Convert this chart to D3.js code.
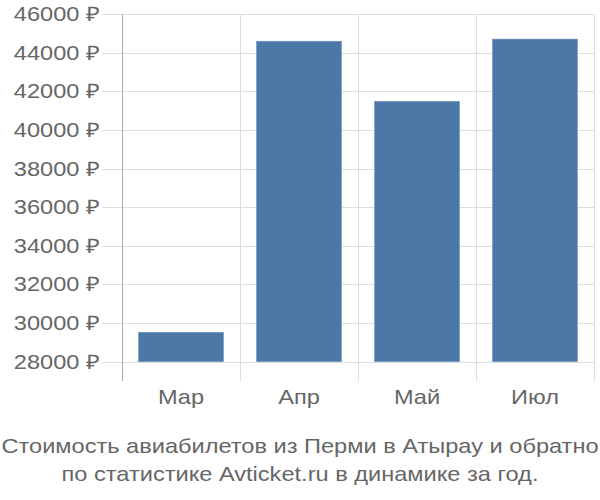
<!DOCTYPE html>
<html><head><meta charset="utf-8">
<script src="https://cdn.jsdelivr.net/npm/d3@7"></script>
<style>body{margin:0;background:#fff}svg{display:block}text{font-family:"Liberation Sans",Arial,sans-serif;fill:#666}</style>
</head><body>
<svg id="c" width="600" height="500"></svg>
<script>
const categories = ["Мар", "Апр", "Май", "Июл"];
const values = [29520, 44590, 41480, 44700];
const yTicks = [28000, 30000, 32000, 34000, 36000, 38000, 40000, 42000, 44000, 46000];
const titleLines = ["Стоимость авиабилетов из Перми в Атырау и обратно", "по статистике Avticket.ru в динамике за год."];

const svg = d3.select("#c");
const x = d3.scaleBand().domain(categories).range([122, 594]).padding(0);
const y = d3.scaleLinear().domain([27000, 46000]).range([381, 14]);
const base = 28000;
const sx = 1.18;

// horizontal grid
svg.append("g").selectAll("line").data(yTicks).join("line")
  .attr("x1", 102).attr("x2", 594)
  .attr("y1", d => Math.round(y(d)) + 0.5).attr("y2", d => Math.round(y(d)) + 0.5)
  .attr("stroke", "#ddd").attr("stroke-width", 1);
// vertical grid
svg.append("g").selectAll("line").data(categories.slice(1).concat(["_end"])).join("line")
  .attr("x1", (d, i) => Math.round(122 + x.bandwidth() * (i + 1)) + 0.5)
  .attr("x2", (d, i) => Math.round(122 + x.bandwidth() * (i + 1)) + 0.5)
  .attr("y1", 14).attr("y2", 381)
  .attr("stroke", "#ddd").attr("stroke-width", 1);

// bars
const inset = x.bandwidth() * 0.14;
svg.append("g").selectAll("rect").data(categories).join("rect")
  .attr("x", d => x(d) + inset)
  .attr("width", x.bandwidth() - 2 * inset)
  .attr("y", (d, i) => y(values[i]))
  .attr("height", (d, i) => y(base) - y(values[i]))
  .attr("fill", "#4c78a8")
  .attr("stroke", "#6f93bd").attr("stroke-width", 0.6);

// y axis line
svg.append("line").attr("x1", 122.5).attr("x2", 122.5).attr("y1", 14).attr("y2", 381)
  .attr("stroke", "#aaa").attr("stroke-width", 1);

// y labels
svg.append("g").selectAll("text").data(yTicks).join("text")
  .attr("transform", d => `translate(100,${y(d)}) scale(${sx},1)`)
  .attr("dy", "0.35em")
  .attr("text-anchor", "end").attr("font-size", 20)
  .text(d => d + " ₽");

// x labels
svg.append("g").selectAll("text").data(categories).join("text")
  .attr("transform", d => `translate(${x(d) + x.bandwidth() / 2},404) scale(${sx},1)`)
  .attr("text-anchor", "middle").attr("font-size", 20)
  .text(d => d);

// title
svg.append("g").selectAll("text").data(titleLines).join("text")
  .attr("transform", (d, i) => `translate(300,${453 + i * 28}) scale(${sx},1)`)
  .attr("text-anchor", "middle").attr("font-size", 20)
  .text(d => d);
</script>
</body></html>
